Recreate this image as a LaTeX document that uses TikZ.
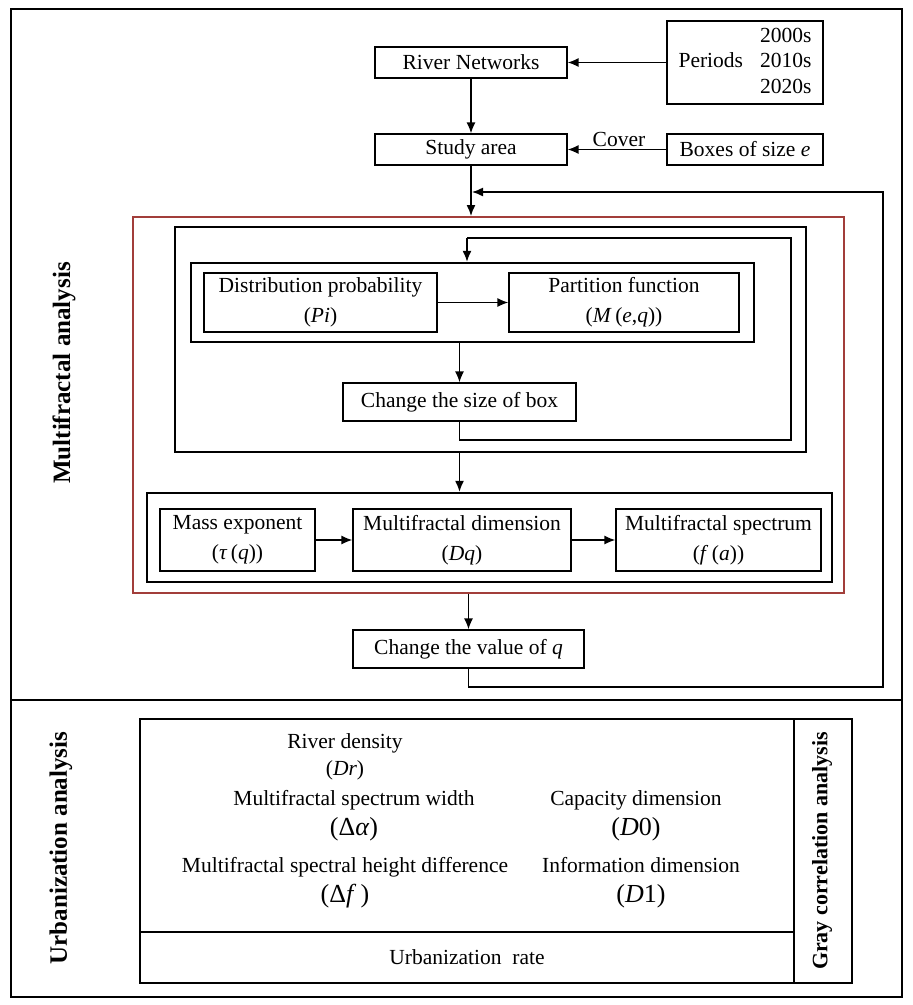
\documentclass[tikz,border=0pt]{standalone}
\usepackage{fontspec}
\setmainfont{Liberation Serif}
\usetikzlibrary{arrows.meta}
\definecolor{frameR}{HTML}{A23E3A}
\newcommand{\boxfont}{\fontsize{21.5}{30}\selectfont}
\newcommand{\bigmath}{\fontsize{26}{32}\selectfont}
\newcommand{\sidefont}{\bfseries\fontsize{25}{30}\selectfont}

\begin{document}
\begin{tikzpicture}[x=1pt,y=-1pt,>={Latex[length=11pt,width=9pt]},
    every node/.style={inner sep=0pt,font=\boxfont},
    stage/.style={draw,line width=1.3pt,align=center},
    frame/.style={draw,line width=2.4pt},
    flow/.style={line width=1.4pt,->}]
    \useasboundingbox (0,0) rectangle (913,1005);
    % outer panels
    \node[frame,minimum width=891pt,minimum height=691pt] (upper) at (456.5,354.5) {};
    \node[frame,minimum width=891pt,minimum height=297pt] (lower) at (456.5,848.5) {};
    \node[rotate=90,font=\sidefont] (mfa) at (64,373) {Multifractal analysis};
    \node[rotate=90,font=\sidefont] (uba) at (61,848) {Urbanization analysis};
    % data preparation
    \node[stage,minimum width=192pt,minimum height=31pt] (rn) at (471,62.5) {River Networks};
    \node[stage,minimum width=192pt,minimum height=31pt] (sa) at (471,149.5) {Study area};
    \node[stage,minimum width=156pt,minimum height=83pt] (per) at (745,62.5)
        {\fontsize{21.5}{25.5}\selectfont
         \begin{tabular}{@{}l@{\hspace{17pt}}r@{}}
           & 2000s\\ Periods & 2010s\\ & 2020s
         \end{tabular}};
    \node[stage,minimum width=156pt,minimum height=31pt] (bse) at (745,149.5) {Boxes of size \textit{e}};
    \node (cov) at (619,139) {Cover};
    \draw[flow] (per.west |- rn) -- (rn);
    \draw[flow] (rn) -- (sa);
    \draw[flow] (bse) -- (sa);
    % multifractal block
    \node[draw=frameR,line width=2pt,minimum width=711pt,minimum height=376pt] (red) at (488.5,405) {};
    \node[frame,minimum width=631pt,minimum height=225pt] (loopframe) at (490.5,339.5) {};
    \node[frame,minimum width=563pt,minimum height=79pt] (pairframe) at (472.5,302.5) {};
    \node[stage,minimum width=233pt,minimum height=59pt] (dist) at (320.5,302.5)
        {Distribution probability\\(\textit{Pi})};
    \node[stage,minimum width=230pt,minimum height=59pt] (part) at (624,302.5)
        {Partition function\\(\textit{M}\,(\textit{e},\textit{q}))};
    \node[stage,minimum width=233pt,minimum height=38pt] (csize) at (459.5,402) {Change the size of box};
    \node[frame,minimum width=685pt,minimum height=89pt] (chainframe) at (489.5,537.5) {};
    \node[stage,minimum width=155pt,minimum height=62pt] (mass) at (237.5,540)
        {Mass exponent\\(\textit{τ}\,(\textit{q}))};
    \node[stage,minimum width=218pt,minimum height=62pt] (dimq) at (462,540)
        {Multifractal dimension\\(\textit{Dq})};
    \node[stage,minimum width=205pt,minimum height=62pt] (spec) at (718.5,540)
        {Multifractal spectrum\\(\textit{f}\,(\textit{a}))};
    \node[stage,minimum width=231pt,minimum height=38pt] (cval) at (468.5,649) {Change the value of \textit{q}};
    \coordinate (sturn) at (791,440);
    \coordinate (sjoin) at (467,238);
    \coordinate (qturn) at (883,687);
    \coordinate (qjoin) at (472,192);
    \draw[flow] (sa) -- (sa |- red.north);
    \draw[flow] (sjoin) -- (sjoin |- pairframe.north);
    \draw[flow] (dist) -- (part);
    \draw[flow] (csize |- pairframe.south) -- (csize.north);
    \draw[line width=1.4pt] (csize.south) |- (sturn) |- (sjoin);
    \draw[flow] (csize |- loopframe.south) -- (csize |- chainframe.north);
    \draw[flow] (mass) -- (dimq);
    \draw[flow] (dimq) -- (spec);
    \draw[flow] (cval |- red.south) -- (cval.north);
    \draw[flow] (cval.south) |- (qturn) |- (qjoin);
    % urbanization block
    \node[frame,minimum width=654pt,minimum height=213pt] (indic) at (467,825.5) {};
    \node[frame,minimum width=654pt,minimum height=51pt] (urate) at (467,957.5) {Urbanization~~rate};
    \node[frame,minimum width=58pt,minimum height=264pt] (gray) at (823,851) {};
    \node[rotate=90,font=\bfseries\fontsize{22}{26}\selectfont] (gca) at (822,851) {Gray correlation analysis};
    \node[align=center,font=\fontsize{21.5}{27}\selectfont] (dr) at (345,757) {River density\\(\textit{Dr})};
    \node[align=center] (dalpha) at (354,816) {Multifractal spectrum width\\{\bigmath(Δ\textit{α})}};
    \node[align=center] (dfh) at (345,883) {Multifractal spectral height difference\\{\bigmath(Δ\textit{f}\,)}};
    \node[align=center] (dzero) at (636,816) {Capacity dimension\\{\bigmath(\textit{D}0)}};
    \node[align=center] (done) at (641,883) {Information dimension\\{\bigmath(\textit{D}1)}};
\end{tikzpicture}
\end{document}
